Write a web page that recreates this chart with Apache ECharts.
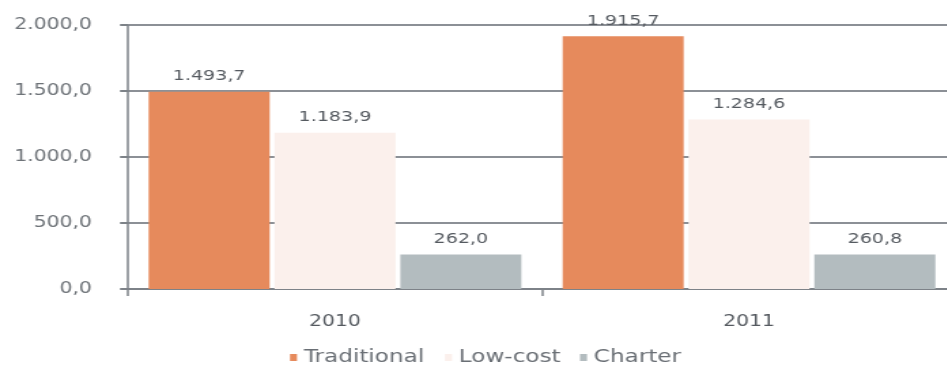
<!DOCTYPE html>
<html>
<head>
<meta charset="utf-8">
<script src="https://cdn.jsdelivr.net/npm/echarts@6/dist/echarts.min.js"></script>
<style>
  html, body { margin: 0; padding: 0; background: #ffffff; overflow: hidden; }
  #frame { width: 947px; height: 367px; overflow: hidden; }
  /* the chart is laid out narrower and widened horizontally for its wide lettering */
  #chart { width: 696px; height: 367px; transform: scaleX(1.36); transform-origin: 0 0; }
</style>
</head>
<body>
<div id="frame"><div id="chart"></div></div>
<script>
// Passengers by carrier type, 2010 vs 2011
const years = ['2010', '2011'];
const seriesNames = ['Traditional', 'Low-cost', 'Charter'];
const traditional = [1493.7, 1915.7];
const lowCost = [1183.9, 1284.6];
const charter = [262.0, 260.8];
const yTicks = [0, 500, 1000, 1500, 2000];

const SX = 1.36; // horizontal widening factor applied by CSS
const px = v => v / SX; // page x-distance -> chart x-distance

// Portuguese-style number: thousands with '.', decimals with ','
function fmt(v) {
  const parts = Number(v).toFixed(1).split('.');
  const intPart = parts[0].replace(/\B(?=(\d{3})+(?!\d))/g, '.');
  return intPart + ',' + parts[1];
}

const labelStyle = {
  show: true,
  position: 'top',
  distance: 8,
  color: '#555a60',
  fontFamily: 'DejaVu Sans',
  fontSize: 14,
  formatter: p => fmt(p.value)
};

// one legend block per entry so each sits at its own spot along the bottom
const legendLefts = [290, 445, 580];
const legends = seriesNames.map((name, i) => ({
  top: 349,
  left: px(legendLefts[i]),
  padding: 0,
  itemWidth: px(7),
  itemHeight: 7,
  icon: 'rect',
  textStyle: { color: '#6a6f75', fontFamily: 'DejaVu Sans', fontSize: 17 },
  data: [name]
}));

const barW = px(121);
const chart = echarts.init(document.getElementById('chart'));
chart.setOption({
  animation: false,
  backgroundColor: '#ffffff',
  grid: { left: px(128), top: 25, width: px(828), height: 264, containLabel: false, outerBoundsMode: 'none' },
  legend: legends,
  xAxis: {
    type: 'category',
    data: years,
    axisLine: { lineStyle: { color: '#7d8288', width: 2 } },
    axisTick: { show: true, alignWithLabel: false, length: 7, lineStyle: { color: '#7d8288', width: 1.5 } },
    axisLabel: { margin: 26, color: '#555a60', fontFamily: 'DejaVu Sans', fontSize: 15 }
  },
  yAxis: {
    type: 'value',
    min: yTicks[0],
    max: yTicks[yTicks.length - 1],
    interval: 500,
    axisLine: { show: true, lineStyle: { color: '#7d8288', width: 1.5 } },
    axisTick: { show: true, inside: false, length: px(8), lineStyle: { color: '#7d8288', width: 2 } },
    axisLabel: { margin: px(36), color: '#6e7378', fontFamily: 'DejaVu Sans', fontSize: 15, formatter: v => fmt(v) },
    splitLine: { show: true, lineStyle: { color: '#8c9096', width: 2 } }
  },
  series: [
    { name: seriesNames[0], type: 'bar', data: traditional, barWidth: barW, barGap: '4%',
      itemStyle: { color: '#e68a5c' }, label: labelStyle },
    { name: seriesNames[1], type: 'bar', data: lowCost, barWidth: barW, barGap: '4%',
      itemStyle: { color: '#fbf0ec' }, label: labelStyle },
    { name: seriesNames[2], type: 'bar', data: charter, barWidth: barW, barGap: '4%',
      itemStyle: { color: '#b3bcbf' }, label: labelStyle }
  ]
});
</script>
</body>
</html>
